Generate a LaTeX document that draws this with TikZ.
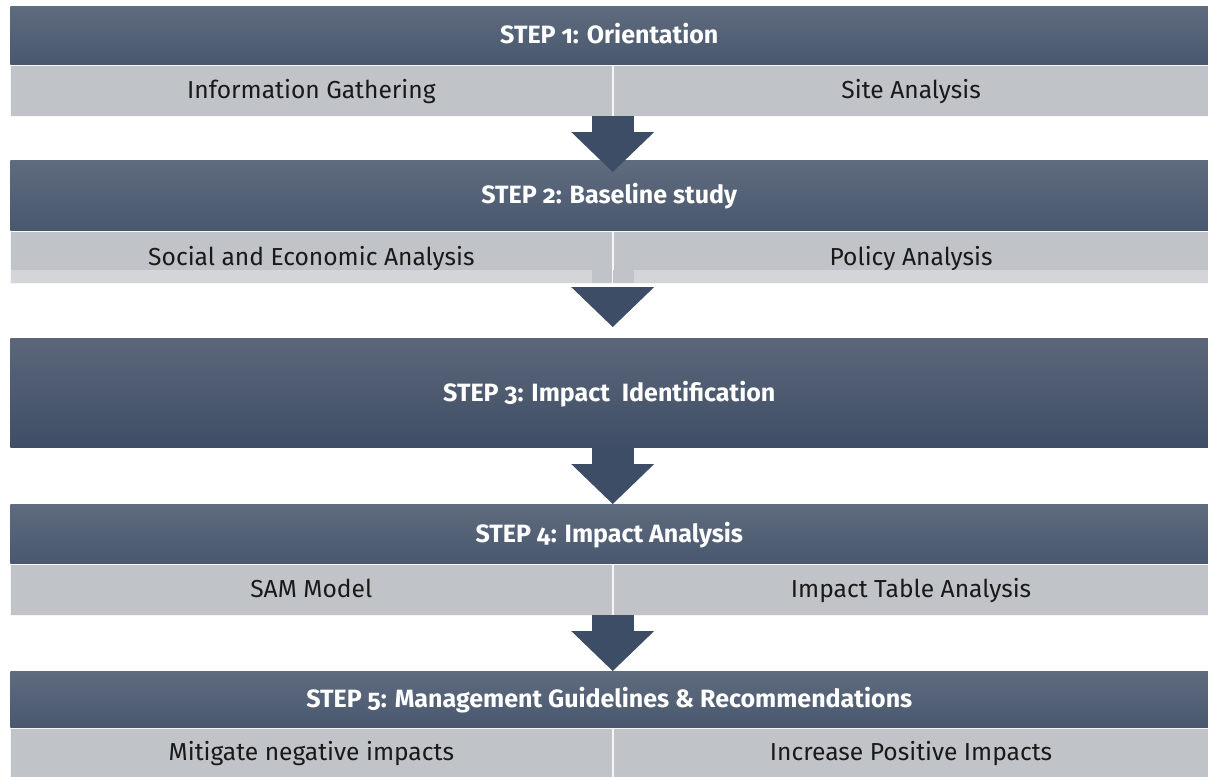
\documentclass[tikz,border=0pt]{standalone}
\usepackage{fontspec}
\setmainfont{Fira Sans}[Numbers=OldStyle]
\usetikzlibrary{calc,arrows.meta}

\definecolor{bandtop}{HTML}{5F6B7E}
\definecolor{bandbot}{HTML}{49586F}
\definecolor{deeptop}{HTML}{5B6679}
\definecolor{deepbot}{HTML}{3F4E66}
\definecolor{rowgray}{HTML}{C0C3C8}
\definecolor{rowlight}{HTML}{D4D5D9}
\definecolor{flowcol}{HTML}{3E4D66}

\tikzset{
	band/.style={anchor=north west, inner sep=0pt, minimum width=299.5mm,
		top color=bandtop, bottom color=bandbot, text=white,
		text height=12.2pt, text depth=0pt,
		font=\fontsize{17.8}{20}\selectfont\bfseries},
	cell/.style={anchor=north west, inner sep=0pt, fill=rowgray,
		draw=white!85!rowgray, line width=0.5pt, text=black!90,
		text height=12pt, text depth=0pt,
		font=\fontsize{17.5}{20}\selectfont},
	flow/.style={draw=flowcol, line width=10.5mm,
		-{Triangle[width=20.75mm,length=10mm,line width=0pt]}},
}

\begin{document}
\begin{tikzpicture}[x=0.25mm, y=-0.25mm]
	\useasboundingbox (0,0) rectangle (1208,776);

% draw step bands
	\node[band, minimum height=14.5mm] (orient) at (10,6) {STEP 1: Orientation};
	\node[band, minimum height=17.5mm] (base) at (10,160) {STEP 2: Baseline study};
	\node[band, minimum height=27.25mm, top color=deeptop, bottom color=deepbot] (impid) at (10,338)
		{STEP 3: Impact~ Identification};
	\node[band, minimum height=14.75mm] (impanal) at (10,504) {STEP 4: Impact Analysis};
	\node[band, minimum height=14mm] (manage) at (10,671)
		{STEP 5: Management Guidelines \& Recommendations};

% draw sub rows
	\node[cell, minimum width=150.5mm, minimum height=12.75mm] (info) at (orient.south west) {Information Gathering};
	\node[cell, minimum width=149mm, minimum height=12.75mm] (site) at (info.north east) {Site Analysis};

	\node[cell, minimum width=150.5mm, minimum height=13mm] (socio) at (base.south west) {Social and Economic Analysis};
	\node[cell, minimum width=149mm, minimum height=13mm] (policy) at (socio.north east) {Policy Analysis};
	\fill[rowlight] ($(socio.south west)+(0.5,-13)$) rectangle ($(policy.south east)+(0,-0.5)$);
	\fill[rowgray] ($(socio.south east)+(-21,-13)$) rectangle ($(socio.south east)+(21,-0.5)$);
	\draw[white!85!rowgray, line width=0.5pt] ($(socio.south east)+(0,-13)$) -- (socio.south east);

	\node[cell, minimum width=150.5mm, minimum height=12.75mm] (sam) at (impanal.south west) {SAM Model};
	\node[cell, minimum width=149mm, minimum height=12.75mm] (table) at (sam.north east) {Impact Table Analysis};

	\node[cell, minimum width=150.5mm, minimum height=12.25mm] (mitig) at (manage.south west) {Mitigate negative impacts};
	\node[cell, minimum width=149mm, minimum height=12.25mm] (incr) at (mitig.north east) {Increase Positive Impacts};

% draw flow arrows
	\draw[flow] (info.south east) -- ($(info.south east |- base.north)+(0,12)$);
	\draw[flow] ($(socio.south east)+(0,4)$) -- ($(socio.south east |- impid.north)+(0,-11)$);
	\draw[flow] (sam.east |- impid.south) -- (sam.east |- impanal.north);
	\draw[flow] (sam.south east) -- (sam.south east |- manage.north);
\end{tikzpicture}
\end{document}
